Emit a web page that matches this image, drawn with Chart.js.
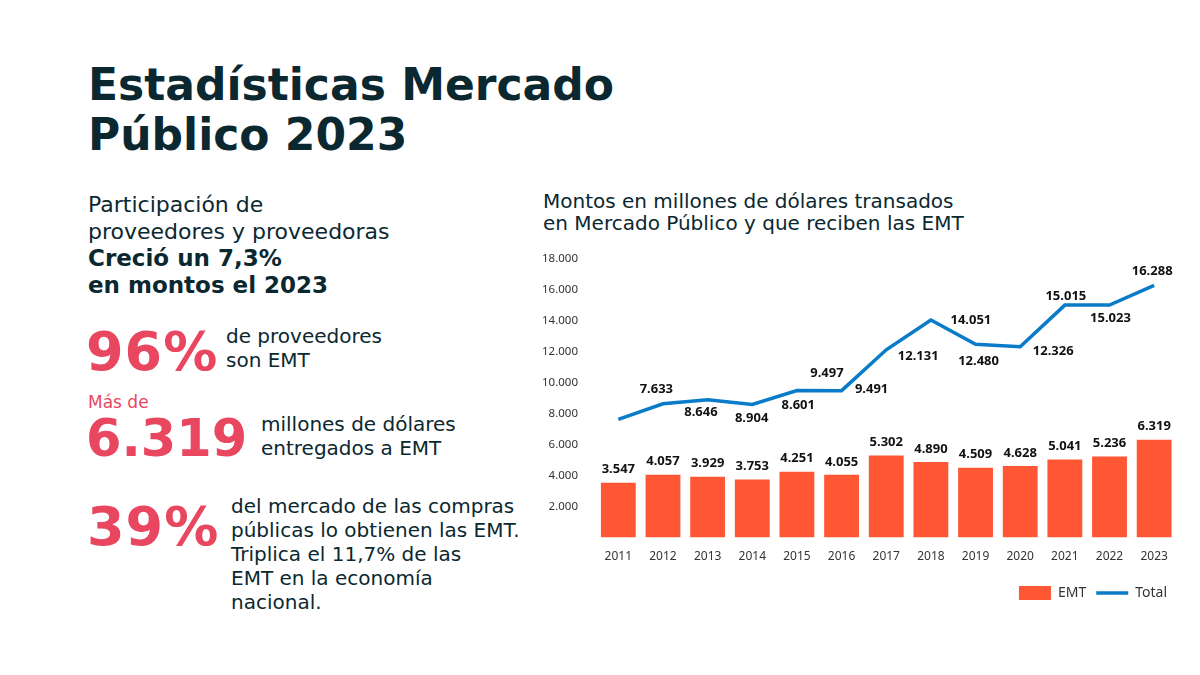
<!DOCTYPE html>
<html>
<head>
<meta charset="utf-8">
<script src="https://cdn.jsdelivr.net/npm/chart.js@4/dist/chart.umd.min.js"></script>
<style>
  body { margin: 0; background: #fff; font-family: "DejaVu Sans", sans-serif; color: #0b2830; }
  #page { position: relative; width: 1200px; height: 675px; overflow: hidden; }
  .abs { position: absolute; }
  #title { left: 88px; top: 60px; font-size: 44px; font-weight: bold; line-height: 50px; }
  #intro { left: 88px; top: 191px; font-size: 22px; line-height: 27px; }
  #intro b { font-size: 23px; }
  .red { color: #e8475f; font-weight: bold; }
  .big { font-size: 54px; letter-spacing: 1px; }
  .txt { font-size: 20px; line-height: 24px; }
  #ctitle { left: 543px; top: 190px; font-size: 20px; line-height: 22px; }
  #wrap { position: absolute; left: 540px; top: 234px; width: 640px; height: 376px; }
</style>
</head>
<body>
<div id="page">
  <div id="title" class="abs">Estadísticas Mercado<br>Público 2023</div>
  <div id="intro" class="abs">Participación de<br>proveedores y proveedoras<br><b>Creció un 7,3%<br>en montos el 2023</b></div>

  <div class="abs red big" style="left:86px; top:322px; line-height:60px;">96%</div>
  <div class="abs txt" style="left:226px; top:324px;">de proveedores<br>son EMT</div>

  <div class="abs" style="left:88px; top:391px; font-size:17px; line-height:22px; color:#e8475f;">Más de</div>
  <div class="abs red" style="left:86px; top:409px; line-height:60px; font-size:51px;">6.319</div>
  <div class="abs txt" style="left:261px; top:412px;">millones de dólares<br>entregados a EMT</div>

  <div class="abs red big" style="left:87px; top:497px; line-height:60px;">39%</div>
  <div class="abs txt" style="left:231px; top:494px;">del mercado de las compras<br>públicas lo obtienen las EMT.<br>Triplica el 11,7% de las<br>EMT en la economía<br>nacional.</div>

  <div id="ctitle" class="abs">Montos en millones de dólares transados<br>en Mercado Público y que reciben las EMT</div>
  <div id="wrap"><canvas id="graph1"></canvas></div>
</div>

<script>
var years = ['2011', '2012', '2013', '2014', '2015', '2016', '2017', '2018', '2019', '2020', '2021', '2022', '2023'];
var emt = [3547, 4057, 3929, 3753, 4251, 4055, 5302, 4890, 4509, 4628, 5041, 5236, 6319];
var total = [7633, 8646, 8904, 8601, 9497, 9491, 12131, 14051, 12480, 12326, 15015, 15023, 16288];
var yTicks = [2000, 4000, 6000, 8000, 10000, 12000, 14000, 16000, 18000];

// where the line labels sit relative to their point (px), copied from the original layout
var lineLabelShift = [[38, -30], [38, 9], [44, 19], [46, 1], [30, -17], [30, -1], [32, 7],
  [40, 0], [3, 17], [33, 5], [1, -9], [1, 13], [-2, -14]];

function fmt(v) {
  return v.toLocaleString('de-DE');
}

var valueLabels = {
  id: 'valueLabels',
  afterDatasetsDraw: function(chart) {
    var ctx = chart.ctx;
    ctx.save();
    ctx.font = 'bold 13px "Noto Sans", sans-serif';
    ctx.fillStyle = '#111';
    ctx.textAlign = 'center';
    ctx.textBaseline = 'middle';
    chart.getDatasetMeta(0).data.forEach(function(bar, i) {
      ctx.fillText(fmt(emt[i]), bar.x, bar.y - 13);
    });
    chart.getDatasetMeta(1).data.forEach(function(pt, i) {
      var s = lineLabelShift[i];
      ctx.fillText(fmt(total[i]), pt.x + s[0], pt.y + s[1]);
    });
    ctx.restore();
  }
};

document.addEventListener('DOMContentLoaded', function() {
  var ctx = document.querySelector('#graph1').getContext('2d');
  var chart = new Chart(ctx, {
    type: 'bar',
    data: {
      labels: years,
      datasets: [{
        label: 'EMT',
        data: emt,
        backgroundColor: '#ff5733',
        barPercentage: 0.78,
        categoryPercentage: 1,
        pointStyle: 'rect',
        order: 2
      }, {
        type: 'line',
        label: 'Total',
        data: total,
        borderColor: '#0a7bc8',
        backgroundColor: '#0a7bc8',
        borderWidth: 3.5,
        pointRadius: 0,
        pointStyle: 'line',
        tension: 0,
        order: 1
      }]
    },
    options: {
      responsive: true,
      maintainAspectRatio: false,
      animation: false,
      layout: { padding: { top: 10, right: 3, bottom: 0, left: 0 } },
      plugins: {
        tooltip: { enabled: false },
        legend: {
          position: 'bottom',
          align: 'end',
          labels: {
            usePointStyle: true,
            pointStyleWidth: 32,
            boxHeight: 18,
            padding: 10,
            color: '#333',
            font: { family: '"Noto Sans", sans-serif', size: 14 },
            sort: function(a, b) { return a.datasetIndex - b.datasetIndex; }
          }
        }
      },
      scales: {
        x: {
          grid: { display: false, drawTicks: false },
          border: { display: false },
          ticks: { padding: 12, color: '#333', font: { family: '"Noto Sans", sans-serif', size: 12 } }
        },
        y: {
          min: 0,
          max: 18000,
          afterFit: function(scale) { scale.width = 56; },
          afterBuildTicks: function(scale) {
            scale.ticks = yTicks.map(function(v) { return { value: v }; });
          },
          grid: { display: false, drawTicks: false },
          border: { display: false },
          ticks: {
            padding: 18,
            color: '#333',
            font: { family: '"Noto Sans", sans-serif', size: 11.5 },
            callback: function(v) { return fmt(v); }
          }
        }
      }
    },
    plugins: [valueLabels]
  });
});
</script>
</body>
</html>
